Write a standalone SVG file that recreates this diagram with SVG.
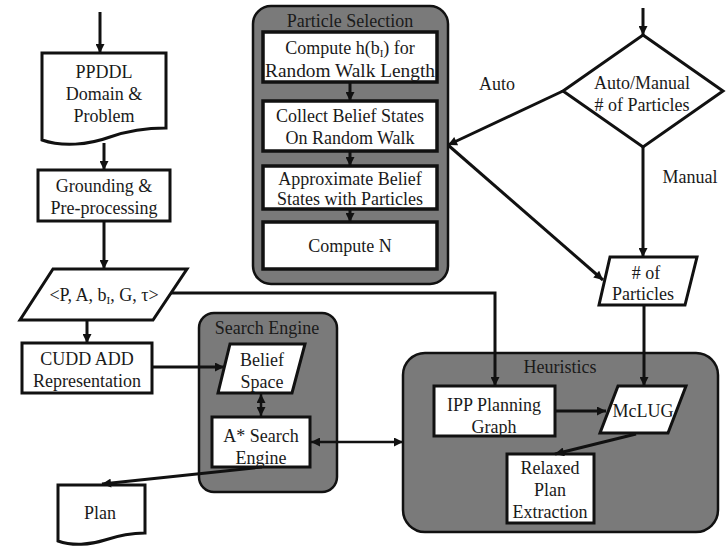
<svg xmlns="http://www.w3.org/2000/svg" width="727" height="547" viewBox="0 0 727 547" font-family="'Liberation Serif', 'DejaVu Serif', serif">
<defs>
<marker id="ah" viewBox="0 0 10 10" refX="10" refY="5" markerWidth="10" markerHeight="9" markerUnits="userSpaceOnUse" orient="auto-start-reverse">
<path d="M0,0 L10,5 L0,10 z" fill="#111"/>
</marker>
<style>
text{font-family:'Liberation Serif','DejaVu Serif',serif;font-size:18px;fill:#1a1a1a;text-anchor:middle}
.box{fill:#fff;stroke:#111;stroke-width:3}
.pbox{fill:#fff;stroke:#111;stroke-width:3.5}
.grp{fill:#7a7a7a;stroke:#111;stroke-width:2.5}
.ln{fill:none;stroke:#111;stroke-width:3}
.arr{fill:none;stroke:#111;stroke-width:3;marker-end:url(#ah)}
.arr2{fill:none;stroke:#111;stroke-width:2.5;marker-end:url(#ah);marker-start:url(#ah)}
.sub{font-size:11px}
</style>
</defs>
<rect width="727" height="547" fill="#fff"/>

<g id="particle-selection">
<rect class="grp" x="253" y="6" width="195" height="278" rx="18"/>
<text x="350" y="27">Particle Selection</text>
</g>
<g id="compute-h">
<rect class="pbox" x="263" y="32" width="174" height="50"/>
<text x="350" y="54">Compute h(b<tspan class="sub" dy="3">I</tspan><tspan dy="-3">) for</tspan></text>
<text x="350" y="77" textLength="170" lengthAdjust="spacingAndGlyphs">Random Walk Length</text>
</g>
<g id="collect-belief">
<rect class="pbox" x="263" y="101" width="174" height="50"/>
<text x="350" y="122">Collect Belief States</text>
<text x="350" y="144">On Random Walk</text>
</g>
<g id="approximate-belief">
<rect class="pbox" x="263" y="166" width="174" height="43"/>
<text x="350" y="185">Approximate Belief</text>
<text x="350" y="205">States with Particles</text>
</g>
<g id="compute-n">
<rect class="pbox" x="263" y="222" width="174" height="47"/>
<text x="350" y="252">Compute N</text>
</g>

<g id="search-engine">
<rect class="grp" x="199" y="313" width="138" height="179" rx="15"/>
<text x="267" y="334">Search Engine</text>
</g>
<g id="belief-space">
<path class="box" d="M230,344 L305,344 L292,393 L218,393 Z"/>
<text x="262" y="366">Belief</text>
<text x="262" y="388">Space</text>
</g>
<g id="astar">
<rect class="box" x="212" y="417" width="98" height="50"/>
<text x="261" y="442">A* Search</text>
<text x="261" y="464">Engine</text>
</g>

<g id="heuristics">
<rect class="grp" x="403" y="353" width="315" height="179" rx="22"/>
<text x="560" y="373">Heuristics</text>
</g>
<g id="ipp">
<rect class="box" x="434" y="386" width="121" height="50"/>
<text x="494" y="411">IPP Planning</text>
<text x="494" y="433">Graph</text>
</g>
<g id="mclug">
<path class="box" d="M618,386 L686,386 L668,433 L600,433 Z"/>
<text x="643" y="417">McLUG</text>
</g>
<g id="relaxed">
<rect class="box" x="507" y="454" width="87" height="69"/>
<text x="550" y="474">Relaxed</text>
<text x="550" y="496">Plan</text>
<text x="550" y="518">Extraction</text>
</g>

<g id="ppddl">
<path class="box" d="M42,53 L166,53 L166,128 C150,128 130,130 110,137 C88,145 62,147 42,140 Z"/>
<text x="104" y="78">PPDDL</text>
<text x="104" y="100">Domain &amp;</text>
<text x="104" y="122">Problem</text>
</g>
<g id="grounding">
<rect class="box" x="38" y="170" width="132" height="51"/>
<text x="104" y="192">Grounding &amp;</text>
<text x="104" y="214">Pre-processing</text>
</g>
<g id="tuple">
<path class="box" d="M53,269 L187,269 L153,320 L20,320 Z"/>
<text x="104" y="301">&lt;P, A, b<tspan class="sub" dy="3">I</tspan><tspan dy="-3">, G, τ&gt;</tspan></text>
</g>
<g id="cudd">
<rect class="box" x="22" y="343" width="130" height="50"/>
<text x="87" y="365">CUDD ADD</text>
<text x="87" y="387">Representation</text>
</g>
<g id="plan">
<path class="box" d="M58,485 L145,485 L145,533 C133,533 120,535 105,540 C90,545 72,546 58,541 Z"/>
<text x="100" y="519">Plan</text>
</g>

<g id="decision">
<path class="box" d="M643,35 L723,91 L643,147 L563,91 Z"/>
<text x="642" y="89" font-size="17">Auto/Manual</text>
<text x="642" y="111" font-size="17"># of Particles</text>
</g>
<g id="num-particles">
<path class="box" d="M610,257 L697,257 L685,305 L599,305 Z"/>
<text x="646" y="279"># of</text>
<text x="643" y="300">Particles</text>
</g>

<g id="connectors">
<line class="arr" x1="100" y1="12" x2="100" y2="53"/>
<line class="arr" x1="104" y1="143" x2="104" y2="170"/>
<line class="arr" x1="104" y1="221" x2="104" y2="269"/>
<line class="arr" x1="87" y1="320" x2="87" y2="343"/>
<line class="arr" x1="152" y1="367" x2="224" y2="367"/>
<polyline class="arr" points="171,293 495,293 495,386"/>
<line class="arr2" x1="261" y1="394" x2="261" y2="416"/>
<line class="arr2" x1="311" y1="442" x2="403" y2="442"/>
<line class="arr" x1="262" y1="467" x2="102" y2="484"/>
<line class="arr" x1="350" y1="82" x2="350" y2="101"/>
<line class="arr" x1="350" y1="151" x2="350" y2="166"/>
<line class="arr" x1="350" y1="209" x2="350" y2="222"/>
<line class="arr" x1="643" y1="8" x2="643" y2="35"/>
<line class="arr" x1="563" y1="91" x2="448" y2="145"/>
<line class="arr" x1="448" y1="145" x2="603" y2="280"/>
<line class="arr" x1="643" y1="147" x2="643" y2="257"/>
<line class="arr" x1="644" y1="305" x2="644" y2="386"/>
<line class="arr" x1="555" y1="411" x2="606" y2="411"/>
<line class="arr" x1="636" y1="434" x2="555" y2="454"/>
</g>

<text x="497" y="90">Auto</text>
<text x="690" y="183">Manual</text>
</svg>
